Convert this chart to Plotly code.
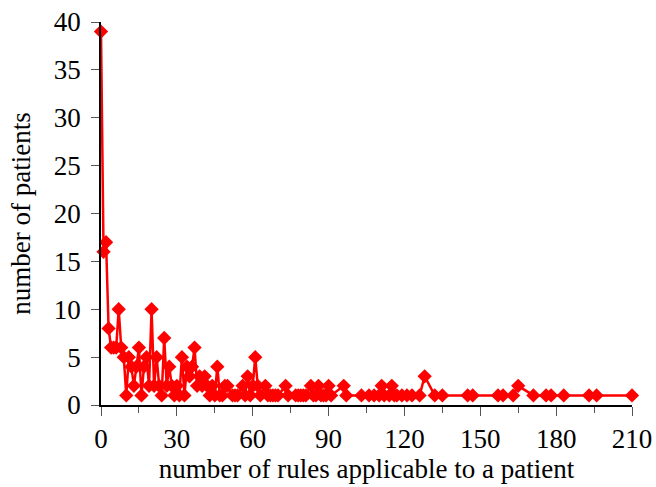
import plotly.graph_objects as go

rules = [0, 1, 2, 3, 4, 5, 6, 7, 8, 9, 10, 11, 12, 13, 14, 15, 16, 17, 18, 19,
         20, 21, 22, 23, 24, 25, 26, 27, 28, 29, 30, 31, 32, 33, 34, 35, 36, 37, 38, 39,
         40, 41, 42, 43, 44, 45, 46, 47, 48, 49, 50, 52, 53, 54, 56, 57, 58, 59, 60, 61,
         62, 63, 65, 66, 67, 68, 69, 70, 73, 74, 77, 78, 79, 80, 81, 83, 84, 85, 86, 87,
         88, 89, 90, 91, 96, 97, 103, 106, 108, 110, 111, 112, 114, 115, 116, 117, 119,
         121, 123, 126, 128, 132, 135, 145, 147, 157, 159, 163, 165, 171, 176, 178, 183,
         193, 196, 210]
patients = [39, 16, 17, 8, 6, 6, 6, 10, 6, 5, 1, 5, 4, 2, 4, 6, 1, 4, 5, 2,
            10, 2, 5, 2, 1, 7, 2, 4, 2, 1, 2, 1, 5, 1, 4, 3, 4, 6, 2, 3,
            2, 3, 2, 1, 2, 1, 4, 1, 1, 2, 2, 1, 1, 1, 2, 1, 3, 1, 2, 5,
            2, 1, 2, 1, 1, 1, 1, 1, 2, 1, 1, 1, 1, 1, 1, 2, 1, 1, 2, 1,
            1, 1, 2, 1, 2, 1, 1, 1, 1, 1, 2, 1, 1, 2, 1, 1, 1,
            1, 1, 1, 3, 1, 1, 1, 1, 1, 1, 1, 2, 1, 1, 1, 1,
            1, 1, 1]

x_ticks = [0, 30, 60, 90, 120, 150, 180, 210]
y_ticks = [0, 5, 10, 15, 20, 25, 30, 35, 40]

FONT = "Liberation Serif, Times New Roman, serif"

fig = go.Figure()
fig.add_trace(go.Scatter(
    x=rules, y=patients, mode="lines+markers",
    line=dict(color="#FF0000", width=2.5),
    marker=dict(symbol="diamond", size=11, color="#FF0000"),
    cliponaxis=False, showlegend=False,
))

fig.update_layout(
    width=656, height=487,
    margin=dict(l=101, r=24, t=22, b=82),
    paper_bgcolor="white", plot_bgcolor="white",
    font=dict(family=FONT, size=27, color="black"),
    xaxis=dict(
        range=[0, 210], tickvals=x_ticks, ticks="outside", ticklen=9, tickwidth=1,
        tickcolor="#555555", showline=True, linecolor="black", linewidth=1.5,
        showgrid=False, zeroline=False, automargin=False,
        minor=dict(dtick=15, tick0=0, ticks="outside", ticklen=6, tickcolor="#555555", showgrid=False),
        title=dict(text="number of rules applicable to a patient", font=dict(size=27), standoff=6),
        tickfont=dict(size=27),
    ),
    yaxis=dict(
        range=[0, 40], tickvals=y_ticks, ticks="outside", ticklen=8, tickwidth=1,
        tickcolor="#555555", showline=True, linecolor="black", linewidth=1.5,
        showgrid=False, zeroline=False, automargin=False, ticklabelstandoff=5,
        title=dict(text="number of patients", font=dict(size=27), standoff=15),
        tickfont=dict(size=27),
    ),
)

fig.write_html("out.html")
